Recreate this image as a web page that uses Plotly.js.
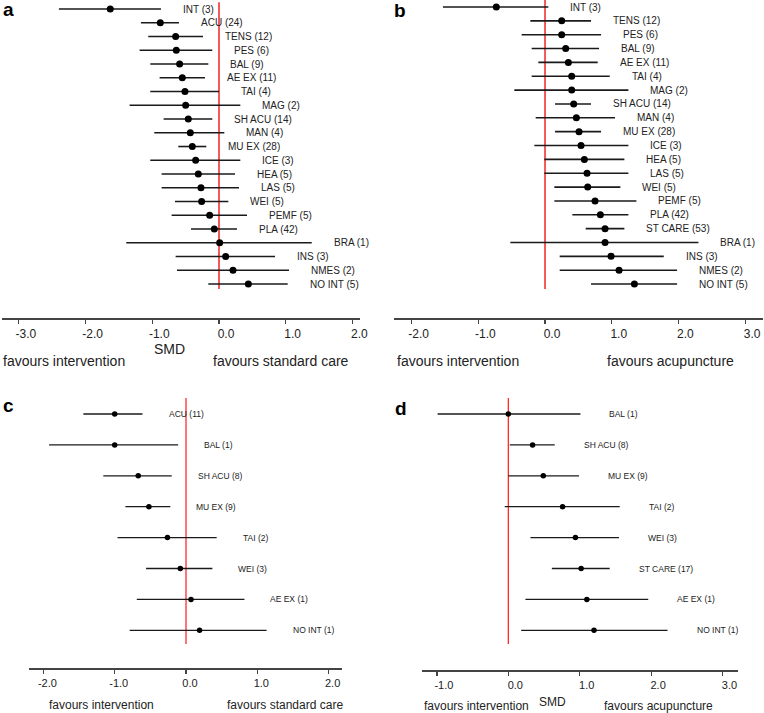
<!DOCTYPE html>
<html>
<head>
<meta charset="utf-8">
<script src="https://cdn.plot.ly/plotly-3.0.1.min.js"></script>
<style>html,body{margin:0;padding:0;background:#fff;}#chart{width:764px;height:713px;}</style>
</head>
<body>
<div id="chart"></div>
<script>
// ---------- Data ----------
const aLabels = ["INT (3)","ACU (24)","TENS (12)","PES (6)","BAL (9)","AE EX (11)","TAI (4)","MAG (2)","SH ACU (14)","MAN (4)","MU EX (28)","ICE (3)","HEA (5)","LAS (5)","WEI (5)","PEMF (5)","PLA (42)","BRA (1)","INS (3)","NMES (2)","NO INT (5)"];
const aSMD  = [-1.63,-0.88,-0.65,-0.64,-0.59,-0.55,-0.51,-0.50,-0.46,-0.43,-0.40,-0.35,-0.31,-0.27,-0.26,-0.14,-0.07,0.01,0.10,0.21,0.44];
const aLow  = [-2.40,-1.17,-1.06,-1.19,-1.03,-0.89,-1.03,-1.34,-0.83,-0.97,-0.61,-1.03,-0.86,-0.86,-0.66,-0.71,-0.42,-1.39,-0.65,-0.63,-0.16];
const aHigh = [-0.87,-0.60,-0.24,-0.10,-0.16,-0.21,0.00,0.32,-0.10,0.08,-0.19,0.32,0.24,0.30,0.14,0.42,0.27,1.39,0.84,1.05,1.03];

const bLabels = ["INT (3)","TENS (12)","PES (6)","BAL (9)","AE EX (11)","TAI (4)","MAG (2)","SH ACU (14)","MAN (4)","MU EX (28)","ICE (3)","HEA (5)","LAS (5)","WEI (5)","PEMF (5)","PLA (42)","ST CARE (53)","BRA (1)","INS (3)","NMES (2)","NO INT (5)"];
const bSMD  = [-0.73,0.25,0.25,0.31,0.35,0.40,0.40,0.43,0.47,0.51,0.54,0.59,0.63,0.64,0.75,0.83,0.90,0.90,0.99,1.11,1.34];
const bLow  = [-1.53,-0.22,-0.35,-0.20,-0.10,-0.20,-0.46,0.15,-0.14,0.15,-0.16,-0.01,-0.01,0.14,0.14,0.41,0.61,-0.52,0.22,0.22,0.69];
const bHigh = [0.05,0.69,0.84,0.81,0.79,0.97,1.25,0.69,1.05,0.84,1.25,1.19,1.25,1.13,1.37,1.25,1.19,2.30,1.78,1.98,1.98];

const cLabels = ["ACU (11)","BAL (1)","SH ACU (8)","MU EX (9)","TAI (2)","WEI (3)","AE EX (1)","NO INT (1)"];
const cSMD  = [-1.00,-1.00,-0.67,-0.52,-0.26,-0.08,0.07,0.19];
const cLow  = [-1.44,-1.92,-1.16,-0.85,-0.96,-0.56,-0.69,-0.79];
const cHigh = [-0.61,-0.11,-0.20,-0.22,0.43,0.37,0.82,1.13];

const dLabels = ["BAL (1)","SH ACU (8)","MU EX (9)","TAI (2)","WEI (3)","ST CARE (17)","AE EX (1)","NO INT (1)"];
const dSMD  = [0.00,0.34,0.49,0.76,0.94,1.02,1.10,1.20];
const dLow  = [-0.99,0.02,0.00,-0.05,0.31,0.61,0.24,0.18];
const dHigh = [1.01,0.65,0.99,1.56,1.55,1.42,1.96,2.23];

const aTickVals = [-3,-2,-1,0,1,2];
const aTickText = ["-3.0","-2.0","-1.0","0.0","1.0","2.0"];
const bTickVals = [-2,-1,0,1,2,3];
const bTickText = ["-2.0","-1.0","0.0","1.0","2.0","3.0"];
const cTickVals = [-2,-1,0,1,2];
const cTickText = ["-2.0","-1.0","0.0","1.0","2.0"];
const dTickVals = [-1,0,1,2,3];
const dTickText = ["-1.0","0.0","1.0","2.0","3.0"];

// ---------- Layout helpers ----------
const W = 764, H = 713;
const FONT = "Liberation Sans, Arial, sans-serif";
const px = v => v / W;
const py = v => 1 - v / H;

const panels = [
  {key:"", labels:aLabels, smd:aSMD, lo:aLow, hi:aHigh, tv:aTickVals, tt:aTickText,
   xdom:[px(2),px(360)], ydom:[py(318),py(0)], xr:[-3.253,2.114], yr:[22.47,-0.655],
   red:[-0.5,20.36], redColor:"#f25a5a", redW:2, ms:7, lw:1.6, lab:10, tick:12, shift:20, tls:7},
  {key:"2", labels:bLabels, smd:bSMD, lo:bLow, hi:bHigh, tv:bTickVals, tt:bTickText,
   xdom:[px(394),px(763)], ydom:[py(318),py(0)], xr:[-2.264,3.268], yr:[22.45,-0.505],
   red:[-0.5,20.36], redColor:"#f25a5a", redW:2, ms:7, lw:1.6, lab:10, tick:12, shift:20, tls:7},
  {key:"3", labels:cLabels, smd:cSMD, lo:cLow, hi:cHigh, tv:cTickVals, tt:cTickText,
   xdom:[px(29),px(342)], ydom:[py(668),py(395)], xr:[-2.202,2.188], yr:[8.22,-0.615],
   red:[-0.52,7.44], redColor:"#ff1a1a", redW:1.2, ms:5.5, lw:1.3, lab:8.5, tick:11, shift:24, tls:4},
  {key:"4", labels:dLabels, smd:dSMD, lo:dLow, hi:dHigh, tv:dTickVals, tt:dTickText,
   xdom:[px(422),px(738)], ydom:[py(670),py(395)], xr:[-1.209,3.217], yr:[8.285,-0.615],
   red:[-0.52,7.44], redColor:"#ff1a1a", redW:1.2, ms:5.5, lw:1.3, lab:8.5, tick:11, shift:27, tls:7}
];

const traces = [];
const layout = {
  width: W, height: H,
  margin: {l:0, r:0, t:0, b:0, pad:0},
  paper_bgcolor: "#fff", plot_bgcolor: "rgba(0,0,0,0)",
  showlegend: false,
  font: {family: FONT, color: "#222"},
  annotations: [],
  shapes: []
};

panels.forEach(p => {
  const xa = "x" + p.key, ya = "y" + p.key;
  const idx = p.labels.map((_, i) => i);
  traces.push({
    type: "scatter", mode: "markers",
    x: p.smd, y: idx, xaxis: xa, yaxis: ya,
    marker: {color: "#000", size: p.ms},
    error_x: {
      type: "data", symmetric: false,
      array: p.hi.map((h, i) => h - p.smd[i]),
      arrayminus: p.smd.map((s, i) => s - p.lo[i]),
      color: "#1a1a1a", thickness: p.lw, width: 0
    },
    hoverinfo: "skip"
  });
  layout["xaxis" + p.key] = {
    domain: p.xdom, range: p.xr, anchor: ya,
    showline: true, linecolor: "#444", linewidth: 1.5,
    ticks: "outside", ticklen: 4, tickwidth: 1.2, tickcolor: "#444",
    tickvals: p.tv, ticktext: p.tt, ticklabelshift: p.tls,
    tickfont: {family: FONT, size: p.tick, color: "#222"},
    showgrid: false, zeroline: false, fixedrange: true
  };
  layout["yaxis" + p.key] = {
    domain: p.ydom, range: p.yr, anchor: xa,
    visible: false, showgrid: false, zeroline: false, fixedrange: true
  };
  layout.shapes.push({
    type: "line", xref: xa, yref: ya, x0: 0, x1: 0, y0: p.red[0], y1: p.red[1],
    line: {color: p.redColor, width: p.redW}, layer: "below"
  });
  p.labels.forEach((t, i) => {
    layout.annotations.push({
      xref: xa, yref: ya, x: p.hi[i], y: i, text: t, showarrow: false,
      xanchor: "left", yanchor: "middle", xshift: p.shift,
      font: {family: FONT, size: p.lab, color: "#222"}
    });
  });
});

function note(text, x, y, size, anchor, bold) {
  layout.annotations.push({
    xref: "paper", yref: "paper", x: px(x), y: py(y),
    text: bold ? "<b>" + text + "</b>" : text, showarrow: false,
    xanchor: anchor, yanchor: "middle",
    font: {family: FONT, size: size, color: bold ? "#000" : "#222"}
  });
}
// panel letters
note("a", 1, 9, 19, "left", true);
note("b", 392, 10, 19, "left", true);
note("c", 1, 405, 19, "left", true);
note("d", 393, 408, 19, "left", true);
// panel a captions
note("SMD", 169, 349, 14, "center");
note("favours intervention", 1, 361, 14, "left");
note("favours standard care", 211, 361, 14, "left");
// panel b captions
note("favours intervention", 395, 361, 14, "left");
note("favours acupuncture", 605, 361, 14, "left");
// panel c captions
note("favours intervention", 47, 705, 12, "left");
note("favours standard care", 225, 705, 12, "left");
// panel d captions
note("favours intervention", 422, 706, 12, "left");
note("SMD", 552, 702, 12, "center");
note("favours acupuncture", 602, 706, 12, "left");

Plotly.newPlot("chart", traces, layout, {staticPlot: true, displayModeBar: false});
</script>
</body>
</html>
